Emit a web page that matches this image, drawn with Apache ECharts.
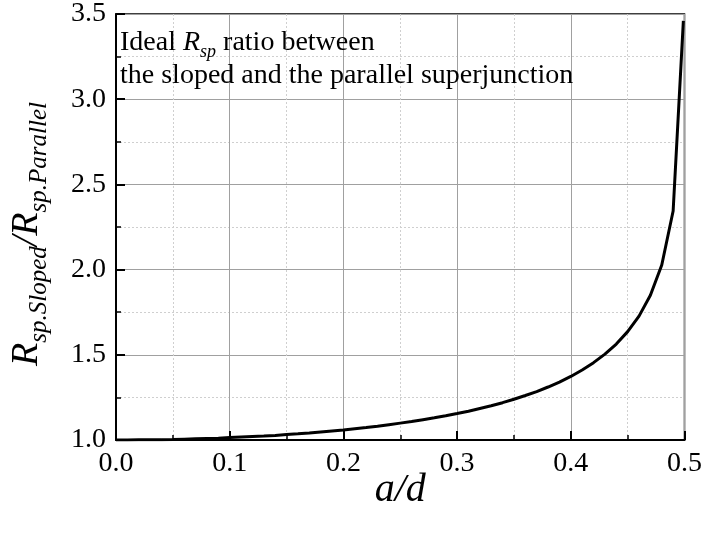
<!DOCTYPE html>
<html>
<head>
<meta charset="utf-8">
<script src="https://cdn.jsdelivr.net/npm/echarts@6/dist/echarts.min.js"></script>
<style>
  html, body { margin: 0; padding: 0; background: #fff; }
  #chart { width: 705px; height: 534px; }
</style>
</head>
<body>
<div id="chart"></div>
<script>
// a/d ratio (x) and ideal Rsp ratio sloped / parallel (y)
const aOverD = [
  0.00, 0.01, 0.02, 0.03, 0.04, 0.05, 0.06, 0.07, 0.08, 0.09,
  0.10, 0.11, 0.12, 0.13, 0.14, 0.15, 0.16, 0.17, 0.18, 0.19,
  0.20, 0.21, 0.22, 0.23, 0.24, 0.25, 0.26, 0.27, 0.28, 0.29,
  0.30, 0.31, 0.32, 0.33, 0.34, 0.35, 0.36, 0.37, 0.38, 0.39,
  0.40, 0.41, 0.42, 0.43, 0.44, 0.45, 0.46, 0.47, 0.48, 0.49,
  0.499
];
const rspRatio = [
  1.000, 1.000, 1.001, 1.001, 1.002, 1.003, 1.005, 1.007, 1.009, 1.011,
  1.014, 1.017, 1.020, 1.023, 1.027, 1.032, 1.036, 1.041, 1.047, 1.053,
  1.059, 1.066, 1.073, 1.081, 1.090, 1.099, 1.108, 1.119, 1.130, 1.142,
  1.155, 1.169, 1.185, 1.201, 1.219, 1.239, 1.261, 1.284, 1.311, 1.340,
  1.373, 1.411, 1.454, 1.504, 1.563, 1.636, 1.727, 1.849, 2.027, 2.344,
  3.460
];
const xTicks = { min: 0, max: 0.5, step: 0.1 };
const yTicks = { min: 1.0, max: 3.5, step: 0.5 };

const serif = '"Liberation Serif", "Times New Roman", serif';
const seriesData = aOverD.map((x, i) => [x, rspRatio[i]]);

const chart = echarts.init(document.getElementById('chart'), null, { renderer: 'canvas' });

const axisCommon = {
  type: 'value',
  axisLine: { show: true, onZero: false, lineStyle: { color: '#000', width: 2 } },
  axisTick: { show: true, inside: true, length: 9, lineStyle: { color: '#000', width: 2 } },
  minorTick: { show: true, splitNumber: 2, length: 5, lineStyle: { color: '#000', width: 1.5 } },
  splitLine: { show: true, lineStyle: { color: '#a0a0a0', width: 1 } },
  minorSplitLine: { show: true, lineStyle: { color: '#cfcfcf', width: 1, type: [2, 2] } },
  axisLabel: { color: '#000', fontFamily: serif, fontSize: 28, margin: 10,
               formatter: v => v.toFixed(1) }
};

const txt = { fontFamily: serif, color: '#000', fontWeight: 'normal' };

chart.setOption({
  animation: false,
  backgroundColor: '#fff',
  grid: { left: 109, right: 18, top: 14, bottom: 94, show: true,
          borderColor: '#000', borderWidth: 1.5, backgroundColor: 'transparent' },
  title: {
    left: 115, top: 23,
    text: '{n|Ideal }{r|R}{s|sp}{n| ratio between}\n{n|the sloped and the parallel superjunction}',
    textStyle: {
      fontWeight: 'normal',
      rich: {
        n: Object.assign({}, txt, { fontSize: 28, lineHeight: 33, verticalAlign: 'bottom', padding: [0, 0, 4, 0] }),
        r: Object.assign({}, txt, { fontSize: 28, fontStyle: 'italic', lineHeight: 33, verticalAlign: 'bottom', padding: [0, 0, 4, 0] }),
        s: Object.assign({}, txt, { fontSize: 18, fontStyle: 'italic', verticalAlign: 'bottom' })
      }
    }
  },
  xAxis: Object.assign({}, axisCommon, {
    min: xTicks.min, max: xTicks.max, interval: xTicks.step,
    name: 'a/d', nameLocation: 'middle', nameGap: 30, nameMoveOverlap: false,
    nameTextStyle: Object.assign({}, txt, { fontSize: 40, fontStyle: 'italic' })
  }),
  yAxis: Object.assign({}, axisCommon, {
    min: yTicks.min, max: yTicks.max, interval: yTicks.step,
    name: '{r|R}{s|sp.Sloped}{r|/R}{s|sp.Parallel}',
    nameLocation: 'middle', nameGap: 64, nameRotate: 90,
    nameTextStyle: {
      padding: [0, 14, 0, 0],
      rich: {
        r: Object.assign({}, txt, { fontSize: 38, fontStyle: 'italic', verticalAlign: 'bottom', padding: [0, 0, 6, 0] }),
        s: Object.assign({}, txt, { fontSize: 25, fontStyle: 'italic', verticalAlign: 'bottom' })
      }
    }
  }),
  series: [{
    type: 'line',
    data: seriesData,
    showSymbol: false,
    smooth: false,
    lineStyle: { color: '#000', width: 3 },
    z: 5
  }]
});
</script>
</body>
</html>
